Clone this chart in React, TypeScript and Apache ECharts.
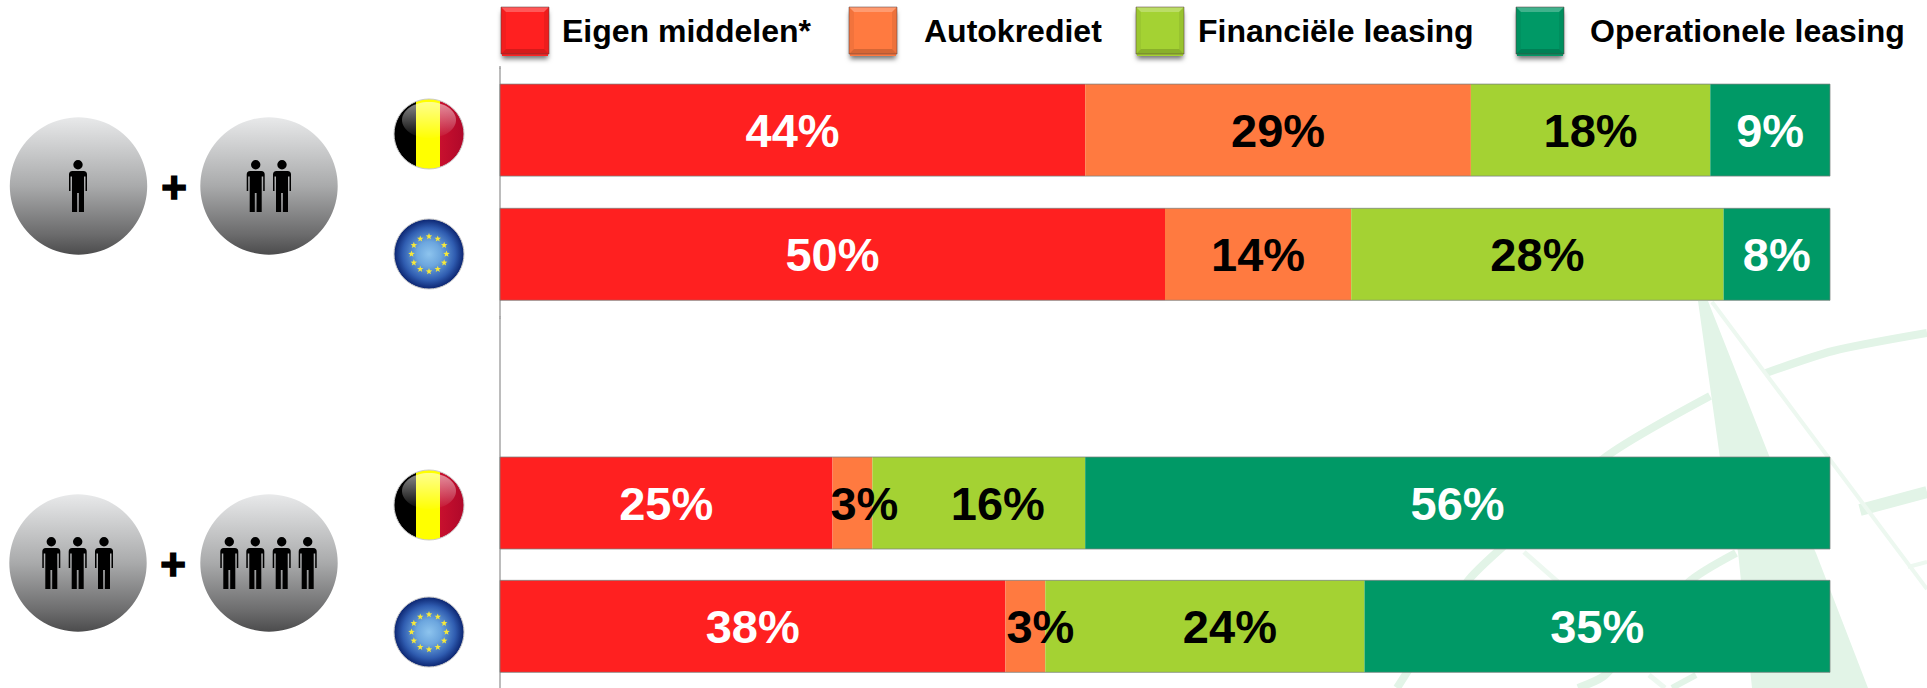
import React, { useEffect, useRef } from "react";
import * as echarts from "echarts";

const topCategories = ["1+2 België", "1+2 EU"];
const bottomCategories = ["", "3+4 België", "3+4 EU"];
const seriesNames = ["Eigen middelen*", "Autokrediet", "Financiële leasing", "Operationele leasing"];
const eigenMiddelenTop = [44, 50];
const autokredietTop = [29, 14];
const financieleLeasingTop = [18, 28];
const operationeleLeasingTop = [9, 8];
const eigenMiddelenBottom = [null, 25, 38];
const autokredietBottom = [null, 3, 3];
const financieleLeasingBottom = [null, 16, 24];
const operationeleLeasingBottom = [null, 56, 35];
const topValues = [eigenMiddelenTop, autokredietTop, financieleLeasingTop, operationeleLeasingTop];
const bottomValues = [eigenMiddelenBottom, autokredietBottom, financieleLeasingBottom, operationeleLeasingBottom];
const colors = ["#FF2020", "#FF7A40", "#A4D233", "#009966"];
const labelColors = ["#fff", "#000", "#000", "#fff"];
const FONT = '"Liberation Sans", Arial, sans-serif';
const BAR = 92;

// horizontal nudges of labels that sit off-centre in the reference: [series, row in bottom panel, px]
const labelNudges: [number, number, number][] = [
  [1, 1, 12],
  [1, 2, 15],
  [2, 1, 19],
  [2, 2, 25],
];

const legendLayout = [
  { left: 501, gap: 8 },
  { left: 849, gap: 22 },
  { left: 1136, gap: 9 },
  { left: 1516, gap: 21 },
];

const PERSON =
  "M-4.7 4.7A4.7 4.7 0 1 1 4.7 4.7A4.7 4.7 0 1 1 -4.7 4.7Z" +
  "M-5.5 11H5.5Q9 11 9 14.5V31H7.5V16.5H6V52H0.9V33H-0.9V52H-6V16.5H-7.5V31H-9V14.5Q-9 11 -5.5 11Z";
echarts.graphic.registerShape("person", echarts.graphic.extendPath(PERSON, {}));

const wm = "#E2F4E7";
const wmThin = "#EDF8F0";
function watermark(): any[] {
  const line = (points: number[][], width: number, color = wm) => ({
    type: "polyline",
    z: 0,
    silent: true,
    shape: { points, smooth: 0.25 },
    style: { stroke: color, lineWidth: width, fill: "none" },
  });
  return [
    line([[1397, 688], [1467, 582], [1497, 552], [1607, 456], [1710, 396]], 8),
    line([[1766, 373], [1833, 351], [1927, 333]], 8),
    line([[1860, 510], [1927, 492]], 12),
    line([[1908, 567], [1927, 562]], 4, wmThin),
    line([[1578, 688], [1605, 675], [1689, 582], [1736, 553]], 8),
    line([[1672, 688], [1696, 675]], 6),
    line([[1524, 552], [1558, 582]], 5, wmThin),
    line([[1649, 675], [1665, 688]], 5, wmThin),
    line([[1712, 302], [1828, 457], [1927, 589]], 4, wmThin),
    {
      type: "polygon",
      z: 0,
      silent: true,
      shape: { points: [[1698, 301], [1708, 301], [1770, 458], [1816, 553], [1868, 688], [1752, 688], [1738, 552], [1720, 458]] },
      style: { fill: wm },
    },
  ];
}

function badge(cx: number, cy: number, persons: number[], topY: number): any[] {
  return [
    {
      type: "circle",
      silent: true,
      shape: { cx, cy, r: 68.7 },
      style: {
        fill: new echarts.graphic.LinearGradient(0, 0, 0, 1, [
          { offset: 0, color: "#E8E9EA" },
          { offset: 0.5, color: "#A9AAAB" },
          { offset: 0.85, color: "#6C6C6D" },
          { offset: 1, color: "#4C4C4D" },
        ]),
      },
    },
    ...persons.map((x) => ({ type: "person", silent: true, x, y: topY, style: { fill: "#000" } })),
  ];
}

function plus(x: number, y: number) {
  return {
    type: "text",
    silent: true,
    x,
    y,
    style: {
      text: "+",
      font: `bold 44px ${FONT}`,
      fill: "#000",
      stroke: "#000",
      lineWidth: 1.5,
      align: "center",
      verticalAlign: "middle",
    },
  };
}

function gloss(cx: number, cy: number) {
  return {
    type: "ellipse",
    silent: true,
    shape: { cx, cy: cy - 14, rx: 27, ry: 18 },
    style: {
      fill: new echarts.graphic.LinearGradient(0, 0, 0, 1, [
        { offset: 0, color: "rgba(255,255,255,0.55)" },
        { offset: 1, color: "rgba(255,255,255,0.02)" },
      ]),
    },
  };
}

function belgium(cx: number, cy: number): any[] {
  const r = 35;
  return [
    {
      type: "circle",
      silent: true,
      shape: { cx, cy, r },
      style: {
        fill: new echarts.graphic.LinearGradient(0, 0, 1, 0, [
          { offset: 0, color: "#000" },
          { offset: 0.32, color: "#000" },
          { offset: 0.32, color: "#FFFF00" },
          { offset: 0.66, color: "#FFFF00" },
          { offset: 0.66, color: "#C8102E" },
          { offset: 1, color: "#B0082A" },
        ]),
        stroke: "#C9C9C9",
        lineWidth: 1,
      },
    },
    gloss(cx, cy),
  ];
}

function europe(cx: number, cy: number): any[] {
  const stars: any[] = [];
  for (let i = 0; i < 12; i++) {
    const a = (i * Math.PI) / 6;
    const sx = cx + 17.5 * Math.sin(a);
    const sy = cy - 17.5 * Math.cos(a);
    const points: number[][] = [];
    for (let k = 0; k < 10; k++) {
      const rr = k % 2 ? 1.4 : 3.4;
      const b = (k * Math.PI) / 5;
      points.push([sx + rr * Math.sin(b), sy - rr * Math.cos(b)]);
    }
    stars.push({ type: "polygon", silent: true, shape: { points }, style: { fill: "#F7E93A" } });
  }
  return [
    {
      type: "circle",
      silent: true,
      shape: { cx, cy, r: 35 },
      style: {
        fill: new echarts.graphic.RadialGradient(0.5, 0.5, 0.5, [
          { offset: 0, color: "#8DC4EE" },
          { offset: 0.35, color: "#6CA6DE" },
          { offset: 0.75, color: "#2F5CB0" },
          { offset: 1, color: "#0B2470" },
        ]),
        stroke: "#C9C9C9",
        lineWidth: 1,
      },
    },
    ...stars,
  ];
}

function swatchDecor(left: number, color: string): any[] {
  const t = 7;
  const w = 48;
  const h = 47;
  const b = 5;
  const r = left + w;
  const bt = t + h;
  const poly = (points: number[][], fill: string) => ({ type: "polygon", z: 10, silent: true, shape: { points }, style: { fill } });
  return [
    {
      type: "rect",
      z: 1,
      silent: true,
      shape: { x: left + 1, y: t + 2, width: w - 2, height: h },
      style: { fill: color, shadowBlur: 5, shadowOffsetY: 3, shadowColor: "rgba(0,0,0,0.55)" },
    },
    poly([[left, t], [r, t], [r - b, t + b], [left + b, t + b]], "rgba(255,255,255,0.25)"),
    poly([[left, t], [left + b, t + b], [left + b, bt - b], [left, bt]], "rgba(0,0,0,0.05)"),
    poly([[r, t], [r - b, t + b], [r - b, bt - b], [r, bt]], "rgba(0,0,0,0.07)"),
    poly([[left, bt], [left + b, bt - b], [r - b, bt - b], [r, bt]], "rgba(0,0,0,0.16)"),
    {
      type: "rect",
      z: 10,
      silent: true,
      shape: { x: left, y: t, width: w, height: h },
      style: { fill: "none", stroke: "rgba(90,60,60,0.5)", lineWidth: 1 },
    },
  ];
}

function makeBars(values: (number | null)[][], panel: number) {
  return seriesNames.map((name, s) => ({
    name,
    type: "bar",
    stack: `panel${panel}`,
    xAxisIndex: panel,
    yAxisIndex: panel,
    barWidth: BAR,
    z: 2,
    itemStyle: { color: colors[s] },
    label: {
      show: true,
      position: "inside",
      formatter: "{c}%",
      color: labelColors[s],
      fontFamily: FONT,
      fontWeight: "bold",
      fontSize: 47,
    },
    data: values[s].map((v, row) => {
      const nudge = panel === 1 ? labelNudges.find((n) => n[0] === s && n[1] === row) : undefined;
      return nudge ? { value: v, label: { offset: [nudge[2], 0] } } : v;
    }),
  }));
}

function makeOutline(categories: string[], panel: number) {
  return {
    name: `outline${panel}`,
    type: "custom",
    xAxisIndex: panel,
    yAxisIndex: panel,
    z: 3,
    silent: true,
    clip: false,
    encode: { x: [0, 1], y: 2 },
    data: categories.map((c, i) => [0, 100, i, c]).filter((d) => d[3] !== ""),
    label: { show: false },
    renderItem: (_p: any, api: any) => {
      const a = api.coord([api.value(0), api.value(2)]);
      const b = api.coord([api.value(1), api.value(2)]);
      return {
        type: "rect",
        shape: { x: a[0], y: a[1] - BAR / 2, width: b[0] - a[0], height: BAR },
        style: { fill: "none", stroke: "rgba(120,130,125,0.75)", lineWidth: 1 },
      };
    },
  };
}

const yAxisBase = {
  type: "category",
  inverse: true,
  axisLine: { show: true, lineStyle: { color: "#A6A6A6", width: 1.5 } },
  axisTick: { show: false },
  axisLabel: { show: false },
  splitLine: { show: false },
};

export default function App() {
  const ref = useRef<HTMLDivElement>(null);

  useEffect(() => {
    document.body.style.margin = "0";
    document.body.style.background = "#fff";
    const chart = echarts.init(ref.current!, undefined, { renderer: "svg" });

    chart.setOption({
      animation: false,
      backgroundColor: "#fff",
      grid: [
        { left: 500, top: 68, width: 1330, height: 248.4 },
        { left: 500, top: 318, width: 1330, height: 372.6 },
      ],
      xAxis: [
        { type: "value", gridIndex: 0, min: 0, max: 100, show: false },
        { type: "value", gridIndex: 1, min: 0, max: 100, show: false },
      ],
      yAxis: [
        { ...yAxisBase, gridIndex: 0, data: topCategories },
        { ...yAxisBase, gridIndex: 1, data: bottomCategories },
      ],
      legend: seriesNames.map((name, s) => ({
        data: [name],
        left: legendLayout[s].left,
        top: 7,
        padding: 0,
        itemWidth: 48,
        itemHeight: 47,
        icon: "rect",
        selectedMode: false,
        z: 4,
        textStyle: {
          fontFamily: FONT,
          fontWeight: "bold",
          fontSize: 32,
          color: "#000",
          padding: [0, 0, 4, legendLayout[s].gap],
        },
      })),
      series: [
        ...makeBars(topValues, 0),
        ...makeBars(bottomValues, 1),
        makeOutline(topCategories, 0),
        makeOutline(bottomCategories, 1),
      ],
      graphic: {
        elements: [
          ...watermark(),
          {
            type: "line",
            silent: true,
            shape: { x1: 500, y1: 66, x2: 500, y2: 69 },
            style: { stroke: "#A6A6A6", lineWidth: 1.5 },
          },
          {
            type: "line",
            silent: true,
            shape: { x1: 500, y1: 316, x2: 500, y2: 319 },
            style: { stroke: "#A6A6A6", lineWidth: 1.5 },
          },
          ...badge(78.5, 186, [78], 160),
          ...badge(269, 186, [255.7, 282], 160),
          ...badge(78, 563, [51.3, 77.7, 104], 537),
          ...badge(269, 563, [229.3, 255.3, 281.7, 307.7], 537),
          plus(174, 187),
          plus(173, 564),
          ...belgium(429, 134),
          ...europe(429, 254),
          ...belgium(429, 505),
          ...europe(429, 632),
          ...legendLayout.flatMap((l, s) => swatchDecor(l.left, colors[s])),
        ],
      },
    });
    return () => chart.dispose();
  }, []);

  return <div ref={ref} style={{ position: "absolute", left: 0, top: 0, width: 1927, height: 688 }} />;
}
